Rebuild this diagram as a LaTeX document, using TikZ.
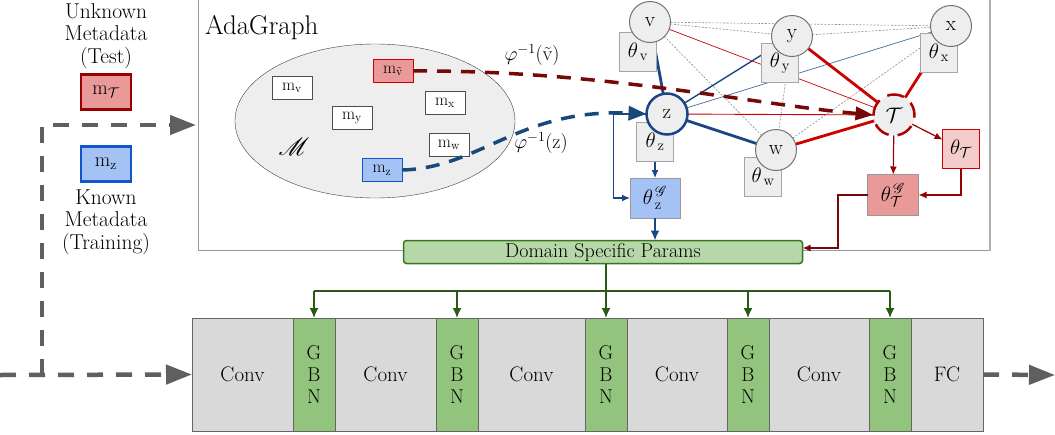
\RequirePackage{fix-cm}
\documentclass[tikz,border=0pt]{standalone}
\usepackage{fontspec}
\usepackage{mathrsfs}
\usetikzlibrary{arrows.meta,positioning,backgrounds}

\definecolor{nodegray}{HTML}{EEEEEE}
\definecolor{framegray}{HTML}{9A9A9A}
\definecolor{convgray}{HTML}{D9D9D9}
\definecolor{gbngreen}{HTML}{93C47D}
\definecolor{dspgreen}{HTML}{B6D7A8}
\definecolor{dspline}{HTML}{38761D}
\definecolor{busgreen}{HTML}{2B5A16}
\definecolor{zblue}{HTML}{1C4587}
\definecolor{boxblue}{HTML}{1155CC}
\definecolor{lightblue}{HTML}{A4C2F4}
\definecolor{tred}{HTML}{CC0000}
\definecolor{darkred}{HTML}{990000}
\definecolor{pinkred}{HTML}{EA9999}
\definecolor{palered}{HTML}{F4CCCC}
\definecolor{curvered}{HTML}{760808}
\definecolor{curveblue}{HTML}{17497A}
\definecolor{flowgray}{HTML}{5F5F5F}

\begin{document}
\begin{tikzpicture}[x=1pt,y=-1pt,
  every node/.style={outer sep=0pt, inner sep=0pt, font=\fontsize{20}{22}\selectfont},
  mbox/.style={draw=black!70, fill=white, line width=1pt, minimum width=40pt, minimum height=23pt, font=\fontsize{17}{18}\selectfont},
  circ/.style={circle, draw=black!55, fill=nodegray, line width=1pt, minimum size=41pt, font=\fontsize{21}{22}\selectfont},
  thbox/.style={draw=black!35, fill=nodegray, line width=1pt, minimum width=37pt, minimum height=39pt, font=\fontsize{21}{22}\selectfont},
  conv/.style={draw=black!60, fill=convgray, line width=1pt, minimum width=101pt, minimum height=113pt, font=\fontsize{21}{22}\selectfont},
  gbn/.style={draw=black!60, fill=gbngreen, line width=1pt, minimum width=42pt, minimum height=113pt, align=center, font=\fontsize{20}{22}\selectfont},
  flow/.style={flowgray, line width=4.5pt, dash pattern=on 16pt off 13pt, -{Triangle[length=26pt,width=19pt]}},
  bus/.style={busgreen, line width=1.6pt},
  graydash/.style={black!45, line width=0.6pt, dash pattern=on 2pt off 1.5pt},
  tip/.style={-{Latex[length=8pt,width=7pt]}}]
\useasboundingbox (0,0) rectangle (1055,434);

% left side: metadata
\node[align=center, font=\fontsize{21.5}{22.5}\selectfont] (unknown) at (106,36) {Unknown\\Metadata\\(Test)};
\node[draw=darkred, fill=pinkred, line width=2.5pt, minimum width=50pt, minimum height=35pt] (mT) at (106,92) {m$_{\mathcal{T}}$};
\node[draw=boxblue, fill=lightblue, line width=2.5pt, minimum width=50pt, minimum height=35pt] (mZ) at (106,164) {m$_{\mathrm{z}}$};
\node[align=center, font=\fontsize{21.5}{22.5}\selectfont] (known) at (106,222) {Known\\Metadata\\(Training)};

% AdaGraph block
\node[anchor=base west, font=\fontsize{27}{28}\selectfont] (title) at (205,34) {AdaGraph};
\draw[black!75, fill=nodegray] (375,121) ellipse [x radius=140, y radius=77];
\node (calM) at (294,147) {\fontsize{34}{36}\selectfont$\mathscr{M}$};
\node[mbox] (mv) at (292,88) {m$_{\mathrm{v}}$};
\node[mbox] (my) at (352,118) {m$_{\mathrm{y}}$};
\node[mbox, draw=tred, fill=pinkred] (mvt) at (393,71) {m$_{\tilde{\mathrm{v}}}$};
\node[mbox] (mx) at (445,103) {m$_{\mathrm{x}}$};
\node[mbox] (mw) at (449,145) {m$_{\mathrm{w}}$};
\node[mbox, draw=boxblue, fill=lightblue] (mz) at (382,170) {m$_{\mathrm{z}}$};
\node (phiv) at (532,55) {$\varphi^{-1}$(\~{v})};
\node (phiz) at (541,143) {$\varphi^{-1}$(z)};

% graph
\node[thbox] (thv) at (638,52) {$\theta_{\,\mathrm{v}}$};
\node[thbox] (thy) at (780,63) {$\theta_{\,\mathrm{y}}$};
\node[thbox] (thx) at (939,53) {$\theta_{\,\mathrm{x}}$};
\node[thbox] (thz) at (655,142) {$\theta_{\,\mathrm{z}}$};
\node[thbox] (thw) at (763,177) {$\theta_{\,\mathrm{w}}$};
\node[thbox, draw=tred, fill=palered] (thT) at (961,149) {$\theta_{\mathcal{T}}$};
\node[thbox, fill=lightblue, draw=black!40, minimum width=50pt, minimum height=40pt] (thzG) at (655,198) {$\theta_{\,\mathrm{z}}^{\,\mathscr{G}}$};
\node[thbox, fill=pinkred, draw=black!40, minimum width=51pt, minimum height=41pt] (thTG) at (893,195) {$\theta_{\mathcal{T}}^{\,\mathscr{G}}$};

\node[circ] (v) at (650,22) {v};
\node[circ] (y) at (792,36) {y};
\node[circ] (x) at (951,26) {x};
\node[circ] (w) at (776,150) {w};
\node[circ, draw=zblue, line width=2.5pt] (z) at (667,114) {z};
\node[circ, draw=tred!85!black, line width=2.5pt, dash pattern=on 17pt off 9pt, dash phase=4pt] (T) at (894,115) {$\mathcal{T}$};

\node[draw=dspline, fill=dspgreen, line width=1.5pt, rounded corners=3pt, minimum width=399pt, minimum height=23pt, font=\fontsize{20}{22}\selectfont] (dsp) at (603,252) {Domain Specific Params};

% network
\node[conv] (conv1) at (242.5,374.5) {Conv};
\node[gbn, right=0pt of conv1] (gbn1) {G\\B\\N};
\node[conv, right=0pt of gbn1] (conv2) {Conv};
\node[gbn, right=0pt of conv2] (gbn2) {G\\B\\N};
\node[conv, minimum width=107pt, right=0pt of gbn2] (conv3) {Conv};
\node[gbn, right=0pt of conv3] (gbn3) {G\\B\\N};
\node[conv, minimum width=100pt, right=0pt of gbn3] (conv4) {Conv};
\node[gbn, right=0pt of conv4] (gbn4) {G\\B\\N};
\node[conv, minimum width=100pt, right=0pt of gbn4] (conv5) {Conv};
\node[gbn, right=0pt of conv5] (gbn5) {G\\B\\N};
\node[conv, minimum width=72pt, right=0pt of gbn5] (fc) {FC};

\begin{scope}[on background layer]
\draw[framegray, line width=0.8pt] (990,-5) -| (198,250) -- (990,250);
\draw[framegray!80, line width=2.5pt] (990,-5) -- (990,251);
% graph edges
\draw[graydash] (v) -- (y);
\draw[graydash] (v) -- (x);
\draw[graydash] (y) -- (x);
\draw[graydash] (v) -- (w);
\draw[graydash] (y) -- (w);
\draw[graydash] (x) -- (w);
\draw[tred, line width=0.7pt] (v) -- (T);
\draw[tred, line width=0.9pt] (z) -- (T);
\draw[zblue, line width=1.4pt] (z) -- (y);
\draw[zblue!80, line width=0.7pt] (z) -- (x);
\draw[zblue, line width=2.8pt] (v) -- (z);
\draw[zblue, line width=2.8pt] (z) -- (w);
\draw[tred, line width=2.8pt] (y) -- (T);
\draw[tred, line width=2.8pt] (x) -- (T);
\draw[tred, line width=2.8pt] (w) -- (T);
\end{scope}

% parameter arrows
\draw[tred!75!black, line width=1.2pt, tip] (T) -- (thTG);
\draw[tred!75!black, line width=1.2pt, tip] (T) -- (thT);
\draw[tred!75!black, line width=1.2pt, tip] (thT.south) |- (thTG.east);
\draw[curvered, line width=2pt, tip] (thTG.west) -- ++(-30,0) |- ([yshift=4pt]dsp.east);
\draw[zblue, line width=1.2pt, tip] (thz) -- (thzG);
\draw[zblue, line width=1.2pt, tip] (z.west) -- ++(-33,0) |- (thzG.west);
\draw[zblue, line width=2pt, -{Latex[length=10pt,width=9pt]}] (thzG) -- (thzG |- dsp.north);

% mapping curves
\draw[curvered, line width=3.5pt, dash pattern=on 14pt off 10pt, -{Triangle[length=18pt,width=13pt]}] (mvt.east) .. controls (600,70) and (750,104) .. (T.west);
\draw[curveblue, line width=3.5pt, dash pattern=on 14pt off 10pt, -{Triangle[length=18pt,width=14pt]}] (mz.east) .. controls (480,168) and (520,108) .. (z.west);

% params to GBN layers
\coordinate (bus) at (607,291);
\draw[bus, -{Latex[length=10pt,width=9pt]}] (dsp.south -| gbn3) -- (gbn3.north);
\draw[bus] (gbn1 |- bus) -- (gbn5 |- bus);
\foreach \g in {gbn1,gbn2,gbn4,gbn5}
  \draw[bus, -{Latex[length=10pt,width=9pt]}] (\g |- bus) -- (\g.north);

% data flow
\coordinate (start) at (0,375);
\coordinate (split) at (42,375);
\coordinate (adain) at (196,125);
\coordinate (out) at (1055,375);
\draw[flow] (start) -- (conv1.west);
\draw[flow] (split) |- (adain);
\draw[flow] (fc.east) -- (out);
\end{tikzpicture}
\end{document}
